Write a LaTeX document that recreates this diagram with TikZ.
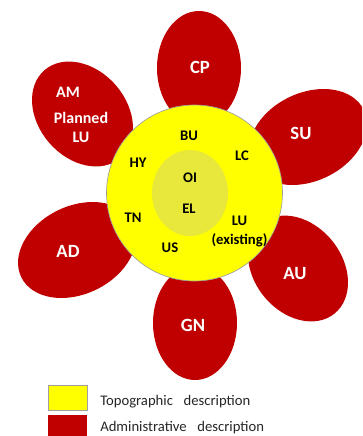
\documentclass[tikz,border=0pt]{standalone}
\usepackage{fontspec}
\setmainfont{Carlito}
\definecolor{petalred}{RGB}{192,0,0}
\definecolor{topoyellow}{RGB}{255,255,0}
\definecolor{innerel}{RGB}{232,232,60}
\definecolor{rimgray}{RGB}{160,160,160}
\definecolor{legtext}{RGB}{38,38,38}
\tikzset{
  petal/.style={fill=petalred},
  plabel/.style={text=white, font=\fontsize{14}{16}\selectfont\bfseries, inner sep=0pt},
  plabelsmall/.style={text=white, font=\fontsize{12}{14.25}\selectfont\bfseries, inner sep=0pt, align=center},
  ilabel/.style={text=black, font=\fontsize{11}{14.25}\selectfont\bfseries, inner sep=0pt, align=center},
  legbox/.style={draw=rimgray, line width=0.6pt},
  legtxt/.style={text=legtext, font=\fontsize{11}{13}\selectfont, anchor=west, inner sep=0pt}
}
\begin{document}
\begin{tikzpicture}[x=0.75pt,y=0.75pt]
\useasboundingbox (0,0) rectangle (362,-436);
\clip (0,0) rectangle (362,-436);
% petals
\fill[petal] (199,-68) ellipse [x radius=42, y radius=57];
\fill[petal] (195,-323) ellipse [x radius=42, y radius=57];
\fill[petal, rotate around={-49:(82.5,-114)}] (82.5,-114) ellipse [x radius=58, y radius=44];
\fill[petal, rotate around={-51:(298,-268.5)}] (298,-268.5) ellipse [x radius=58, y radius=44];
\fill[petal, rotate around={26:(77,-250)}] (77,-250) ellipse [x radius=62, y radius=44];
\fill[petal, rotate around={26:(308,-137)}] (308,-137) ellipse [x radius=62, y radius=44];
% centre
\filldraw[fill=topoyellow, draw=rimgray, line width=0.5pt] (194.5,-193) circle [radius=88];
\fill[innerel] (190,-193) ellipse [x radius=38, y radius=43];
% petal labels
\node[plabel] (cp) at (200,-67) {CP};
\node[plabel] (su) at (301,-133) {SU};
\node[plabel] (ad) at (68,-251) {AD};
\node[plabel] (au) at (295,-274) {AU};
\node[plabel] (gn) at (193,-325) {GN};
\node[plabelsmall] (am) at (68,-92) {AM};
\node[plabelsmall] (plu) at (81,-127.5) {Planned\\LU};
% inner labels
\node[ilabel] (bu) at (189,-136) {BU};
\node[ilabel] (lc) at (242,-156) {LC};
\node[ilabel] (hy) at (138,-163) {HY};
\node[ilabel] (oi) at (190,-178) {OI};
\node[ilabel] (el) at (189,-209) {EL};
\node[ilabel] (tn) at (133,-218) {TN};
\node[ilabel] (lu) at (239.5,-231.5) {LU\\(existing)};
\node[ilabel] (us) at (170,-248) {US};
% legend
\draw[legbox, fill=topoyellow] (48,-385) rectangle (87,-410);
\fill[petalred] (48,-415) rectangle (87,-445);
\node[legtxt] (lt) at (100,-402) {Topographic\hspace{0.5em} description};
\node[legtxt] (la) at (100,-428) {Administrative\hspace{0.5em} description};
\end{tikzpicture}
\end{document}
